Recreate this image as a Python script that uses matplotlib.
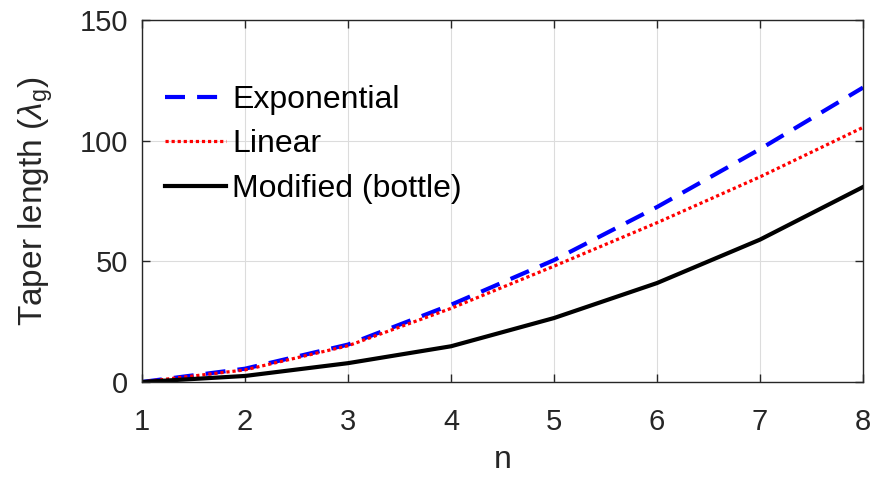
import matplotlib
matplotlib.use('Agg')
import matplotlib.pyplot as plt
import numpy as np

plt.rcParams['font.family'] = ['Liberation Sans', 'DejaVu Sans']
plt.rcParams['mathtext.fontset'] = 'custom'
plt.rcParams['mathtext.rm'] = 'Liberation Sans'
plt.rcParams['mathtext.it'] = 'Liberation Sans:italic'

# values
n = [1, 2, 3, 4, 5, 6, 7, 8]
exponential = [0, 5.5, 15.5, 32, 50.5, 72.5, 96.5, 122]
linear = [0, 5, 15, 30.5, 48, 66, 85, 105.5]
modified = [0, 2.5, 7.8, 14.8, 26.5, 41, 59, 80.8]

xticks = [1, 2, 3, 4, 5, 6, 7, 8]
yticks = [0, 50, 100, 150]

fig = plt.figure(figsize=(8.75, 4.8), dpi=100)
ax = fig.add_axes([0.1623, 0.2042, 0.8240, 0.7541])

ax.plot(n, exponential, color='#0000ff', lw=3, ls=(0, (4.8, 2.9)), label='Exponential')
ax.plot(n, linear, color='#ff0000', lw=2.3, ls=(0, (1, 0.9)), label='Linear')
ax.plot(n, modified, color='black', lw=3, label='Modified (bottle)')

ax.set_xlim(1, 8)
ax.set_ylim(0, 150)
ax.set_xticks(xticks)
ax.set_yticks(yticks)
ax.grid(True, color='#dcdcdc', lw=0.8)
ax.set_axisbelow(True)

for s in ax.spines.values():
    s.set_color('#262626')
    s.set_linewidth(1.0)
ax.tick_params(direction='in', length=6, width=1, colors='#262626',
               labelsize=21, top=True, right=True)
ax.tick_params(axis='x', pad=19)
ax.tick_params(axis='y', pad=10)
for lab in ax.get_xticklabels() + ax.get_yticklabels():
    lab.set_color('#262626')

ax.set_xlabel('n', fontsize=23, color='#262626', labelpad=6)
ax.set_ylabel(r'Taper length ($\lambda_\mathrm{g}$)', fontsize=24, color='#262626', labelpad=18)

ax.legend(loc='upper left', bbox_to_anchor=(-0.008, 0.9), frameon=False, fontsize=23,
          handlelength=1.9, handletextpad=0.2, labelspacing=0.45, borderaxespad=0.5)

fig.savefig('out.png', dpi=100)
